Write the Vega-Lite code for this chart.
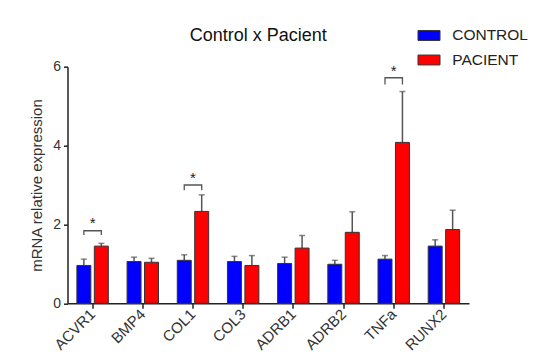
{
  "$schema": "https://vega.github.io/schema/vega-lite/v6.json",
  "autosize": "none",
  "width": 401.5,
  "height": 236.6,
  "padding": {"left": 67.5, "top": 66.7, "right": 69, "bottom": 59.7},
  "background": "white",
  "title": {
    "text": "Control x Pacient",
    "fontSize": 18,
    "fontWeight": "normal",
    "font": "Liberation Sans",
    "color": "#111111",
    "anchor": "middle",
    "frame": "group",
    "baseline": "alphabetic",
    "offset": 0,
    "dy": 35,
    "dx": -10
  },
  "config": {
    "font": "Liberation Sans",
    "view": {"stroke": null},
    "axis": {"grid": false, "domainColor": "#222222", "tickColor": "#222222", "labelColor": "#333333", "titleColor": "#333333", "labelFont": "Liberation Sans", "titleFont": "Liberation Sans"}
  },
  "datasets": {
    "bars": [
      {"gene": "ACVR1", "group": "CONTROL", "mean": 0.96, "upper": 1.12},
      {"gene": "ACVR1", "group": "PACIENT", "mean": 1.45, "upper": 1.52},
      {"gene": "BMP4", "group": "CONTROL", "mean": 1.06, "upper": 1.17},
      {"gene": "BMP4", "group": "PACIENT", "mean": 1.04, "upper": 1.14},
      {"gene": "COL1", "group": "CONTROL", "mean": 1.09, "upper": 1.23},
      {"gene": "COL1", "group": "PACIENT", "mean": 2.33, "upper": 2.75},
      {"gene": "COL3", "group": "CONTROL", "mean": 1.06, "upper": 1.19},
      {"gene": "COL3", "group": "PACIENT", "mean": 0.96, "upper": 1.21},
      {"gene": "ADRB1", "group": "CONTROL", "mean": 1.01, "upper": 1.17},
      {"gene": "ADRB1", "group": "PACIENT", "mean": 1.4, "upper": 1.72},
      {"gene": "ADRB2", "group": "CONTROL", "mean": 0.99, "upper": 1.09},
      {"gene": "ADRB2", "group": "PACIENT", "mean": 1.8, "upper": 2.32},
      {"gene": "TNFa", "group": "CONTROL", "mean": 1.12, "upper": 1.21},
      {"gene": "TNFa", "group": "PACIENT", "mean": 4.08, "upper": 5.37},
      {"gene": "RUNX2", "group": "CONTROL", "mean": 1.45, "upper": 1.61},
      {"gene": "RUNX2", "group": "PACIENT", "mean": 1.87, "upper": 2.36}
    ],
    "brackets": [
      {"gene": "ACVR1", "group": "CONTROL", "step": 1, "y": 1.73},
      {"gene": "ACVR1", "group": "CONTROL", "step": 2, "y": 1.84},
      {"gene": "ACVR1", "group": "PACIENT", "step": 3, "y": 1.84},
      {"gene": "ACVR1", "group": "PACIENT", "step": 4, "y": 1.73},
      {"gene": "COL1", "group": "CONTROL", "step": 1, "y": 2.87},
      {"gene": "COL1", "group": "CONTROL", "step": 2, "y": 3.0},
      {"gene": "COL1", "group": "PACIENT", "step": 3, "y": 3.0},
      {"gene": "COL1", "group": "PACIENT", "step": 4, "y": 2.87},
      {"gene": "TNFa", "group": "CONTROL", "step": 1, "y": 5.55},
      {"gene": "TNFa", "group": "CONTROL", "step": 2, "y": 5.72},
      {"gene": "TNFa", "group": "PACIENT", "step": 3, "y": 5.72},
      {"gene": "TNFa", "group": "PACIENT", "step": 4, "y": 5.55}
    ],
    "stars": [
      {"gene": "ACVR1", "label": "*", "y": 1.91},
      {"gene": "COL1", "label": "*", "y": 3.06},
      {"gene": "TNFa", "label": "*", "y": 5.77}
    ]
  },
  "encoding": {
    "x": {
      "field": "gene",
      "type": "nominal",
      "sort": ["ACVR1", "BMP4", "COL1", "COL3", "ADRB1", "ADRB2", "TNFa", "RUNX2"],
      "scale": {"paddingInner": 0.374, "paddingOuter": 0.187},
      "axis": {"title": null, "labelAngle": -45, "labelAlign": "right", "labelBaseline": "middle", "labelFontSize": 15, "tickSize": 5, "labelPadding": 3, "domainWidth": 1.5, "tickWidth": 1.5}
    }
  },
  "layer": [
    {
      "data": {"name": "bars"},
      "mark": {"type": "rule", "color": "#555555", "strokeWidth": 1.5},
      "encoding": {
        "xOffset": {"field": "group", "type": "nominal", "scale": {"paddingInner": 0.2, "paddingOuter": 0}},
        "y": {"field": "mean", "type": "quantitative"},
        "y2": {"field": "upper"}
      }
    },
    {
      "data": {"name": "bars"},
      "mark": {"type": "tick", "color": "#555555", "thickness": 1.5, "size": 6, "orient": "horizontal"},
      "encoding": {
        "xOffset": {"field": "group", "type": "nominal"},
        "y": {"field": "upper", "type": "quantitative"}
      }
    },
    {
      "data": {"name": "bars"},
      "mark": {"type": "bar", "stroke": "#333333", "strokeWidth": 1},
      "encoding": {
        "xOffset": {"field": "group", "type": "nominal"},
        "y": {
          "field": "mean",
          "type": "quantitative",
          "scale": {"domain": [0, 6], "nice": false},
          "axis": {"title": "mRNA relative expression", "titleFontSize": 15, "titleFontWeight": "normal", "titlePadding": 8, "values": [0, 2, 4, 6], "labelFontSize": 14, "tickSize": 4, "labelPadding": 3, "domainWidth": 1.5, "tickWidth": 1.5}
        },
        "color": {
          "field": "group",
          "type": "nominal",
          "scale": {"domain": ["CONTROL", "PACIENT"], "range": ["#0000FF", "#FF0000"]},
          "legend": {
            "title": null,
            "orient": "none",
            "legendX": 350,
            "legendY": -42.7,
            "padding": 0,
            "symbolType": "M-1,-0.45L1,-0.45L1,0.45L-1,0.45Z",
            "symbolSize": 484,
            "symbolStrokeColor": "#333333",
            "symbolStrokeWidth": 1,
            "symbolOpacity": 1,
            "labelFontSize": 15.5,
            "labelColor": "#222222",
            "labelOffset": 11.7,
            "rowPadding": 4.5
          }
        }
      }
    },
    {
      "data": {"name": "brackets"},
      "mark": {"type": "line", "color": "#555555", "strokeWidth": 1.3},
      "encoding": {
        "xOffset": {"field": "group", "type": "nominal"},
        "y": {"field": "y", "type": "quantitative"},
        "detail": {"field": "gene"},
        "order": {"field": "step"}
      }
    },
    {
      "data": {"name": "stars"},
      "mark": {"type": "text", "fontSize": 15, "baseline": "alphabetic", "color": "#222222"},
      "encoding": {
        "y": {"field": "y", "type": "quantitative"},
        "text": {"field": "label"}
      }
    }
  ]
}
